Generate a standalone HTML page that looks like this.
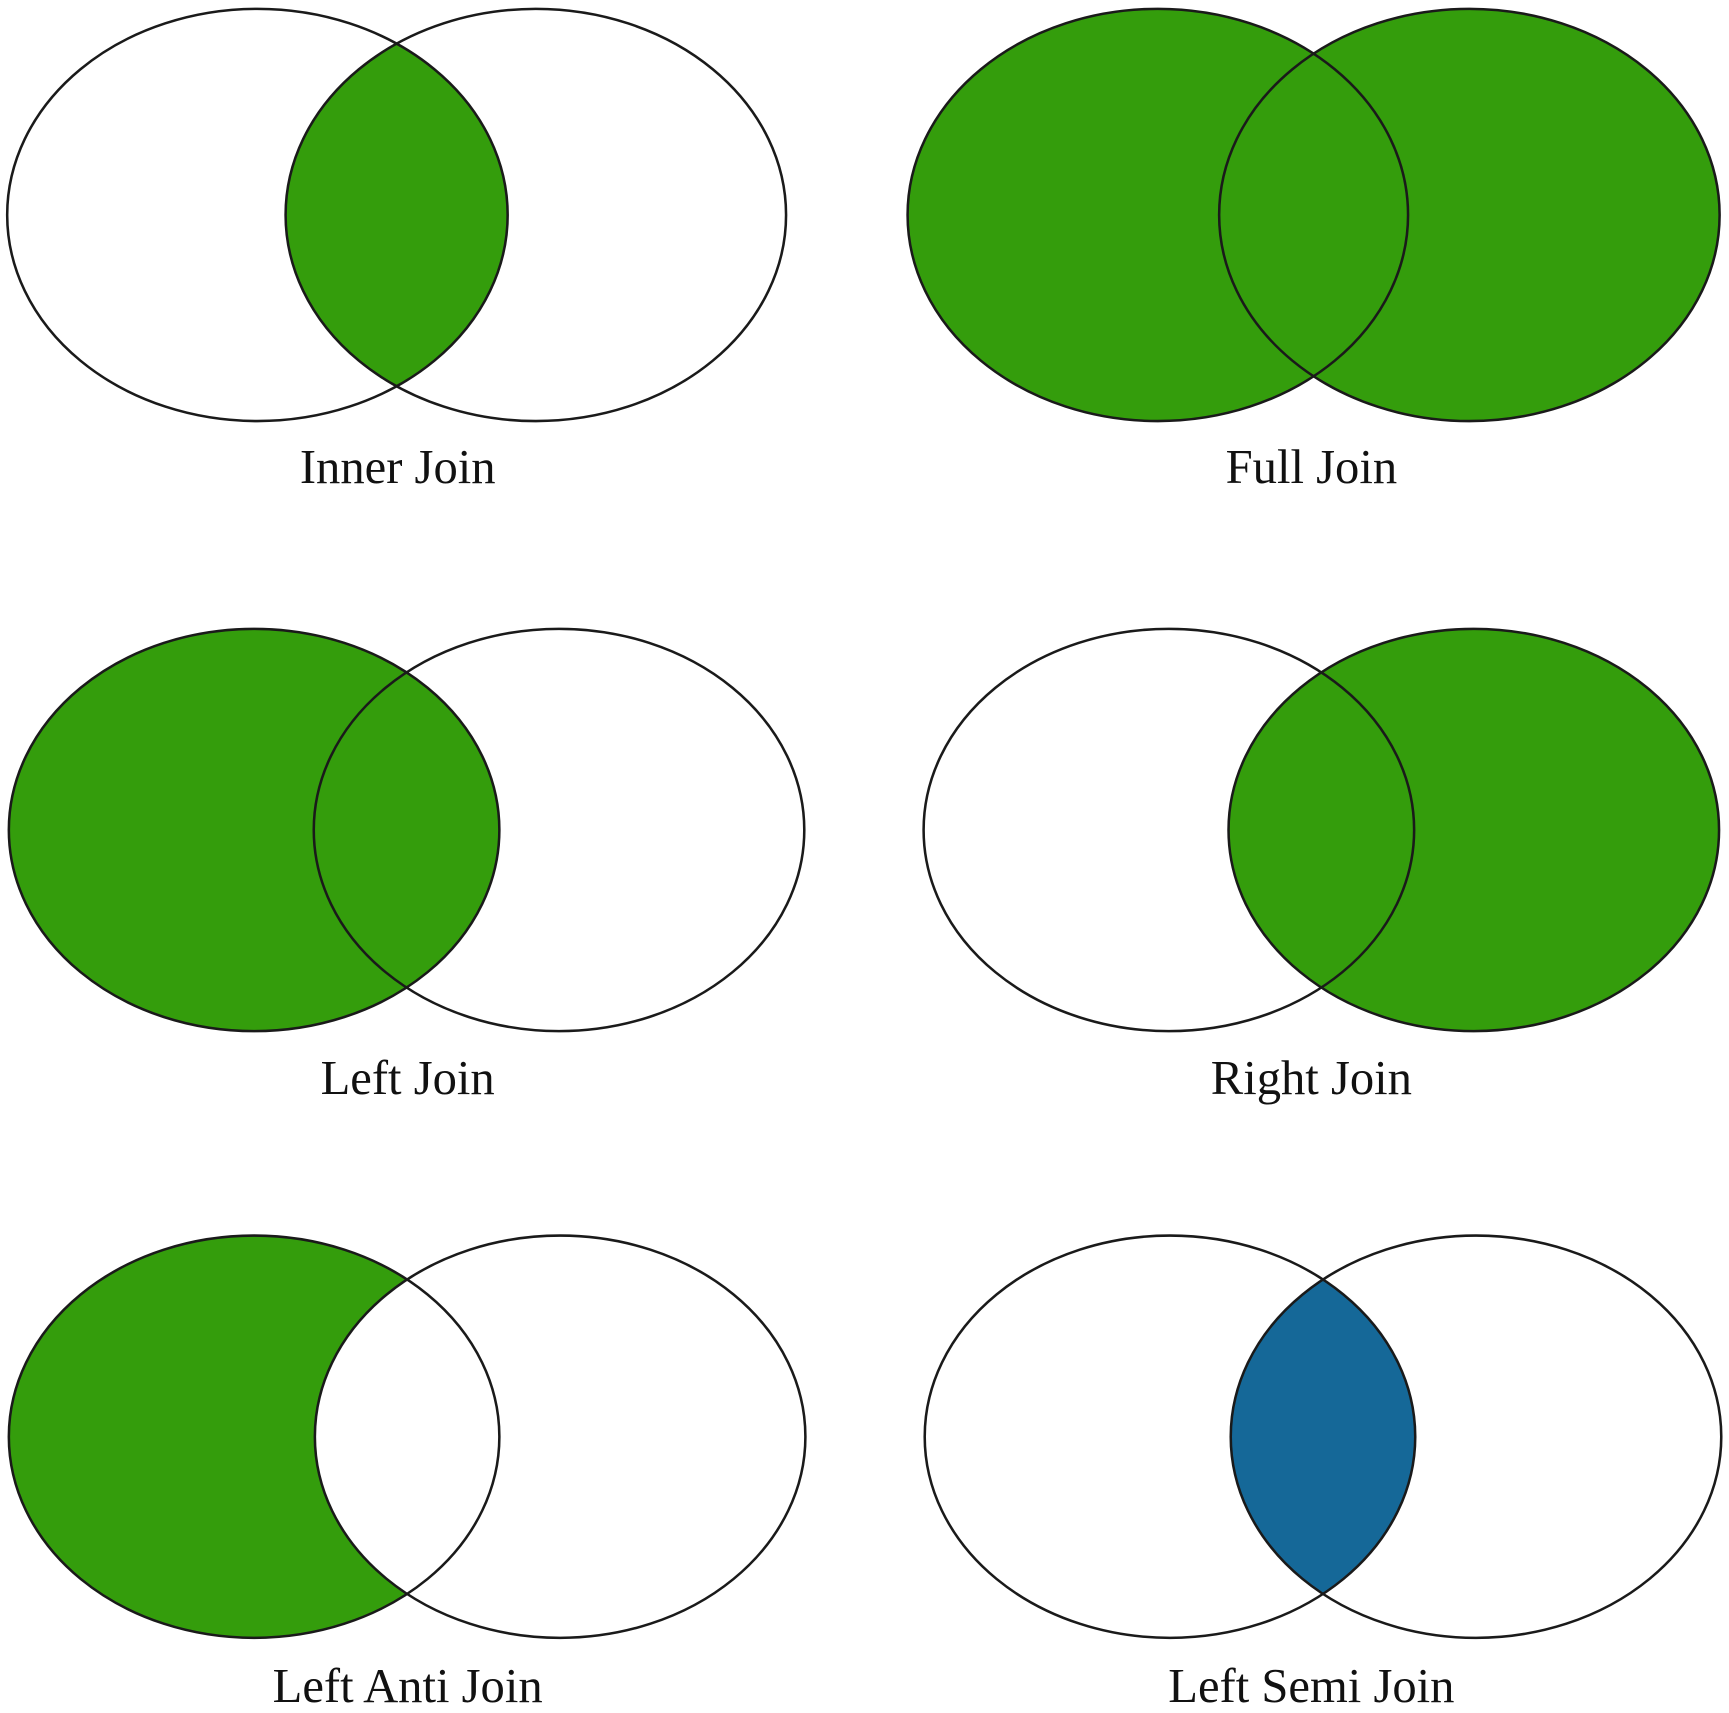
<!DOCTYPE html>
<html><head><meta charset="utf-8"><style>
html,body{margin:0;padding:0;background:#fff;}
svg{display:block;}
</style></head><body>
<svg id="chart" width="1729" height="1713" viewBox="0 0 1565 1550" preserveAspectRatio="none" xmlns="http://www.w3.org/2000/svg"></svg>
<script>
const labels = ["Inner Join","Full Join","Left Join","Right Join","Left Anti Join","Left Semi Join"];
// fill flags: [leftOnly, intersection, rightOnly]
const leftOnlyFill = [0,1,1,0,1,0];
const interFill = [1,1,1,1,0,1];
const rightOnlyFill = [0,1,0,1,0,0];
const fillColor = ["#349d0c","#349d0c","#349d0c","#349d0c","#349d0c","#156898"];
// geometry per panel: left cx, right cx, cy, rx, ry, label x, label baseline
const geo = [
 [233,485,194.5,226.5,186.5,360,437],
 [1048,1330,194.5,226.5,186.5,1187,437],
 [230,506,751,222,182,369,990],
 [1058,1334,751,222,182,1187,990],
 [230,507,1300,222,182,369,1540],
 [1059,1336,1300,222,182,1187,1540]
];
const NS="http://www.w3.org/2000/svg";
const svg=document.getElementById('chart');
function mk(t,a){const e=document.createElementNS(NS,t);for(const k in a)e.setAttribute(k,a[k]);return e;}
const defs=mk('defs',{});svg.appendChild(defs);
labels.forEach((lab,i)=>{
  const [lx,rx_,cy,rx,ry,tx,ty]=geo[i];
  const g=mk('g',{});
  
  
  const cl=mk('clipPath',{id:'cl'+i});cl.appendChild(mk('ellipse',{cx:lx,cy:cy,rx:rx,ry:ry}));
  const cr=mk('clipPath',{id:'cr'+i});cr.appendChild(mk('ellipse',{cx:rx_,cy:cy,rx:rx,ry:ry}));
  defs.appendChild(cl);defs.appendChild(cr);
  const c=fillColor[i];
  if(leftOnlyFill[i]){const e=mk('ellipse',{cx:lx,cy:cy,rx:rx,ry:ry,fill:c});
    g.appendChild(e);}
  if(rightOnlyFill[i]){const e=mk('ellipse',{cx:rx_,cy:cy,rx:rx,ry:ry,fill:c});
    g.appendChild(e);}
  if(!interFill[i]){const e=mk('ellipse',{cx:rx_,cy:cy,rx:rx,ry:ry,fill:'#fff','clip-path':'url(#cl'+i+')'});
    g.appendChild(e);}
  else {const e=mk('ellipse',{cx:rx_,cy:cy,rx:rx,ry:ry,fill:c,'clip-path':'url(#cl'+i+')'});
    g.appendChild(e);}
  const o1=mk('ellipse',{cx:lx,cy:cy,rx:rx,ry:ry,fill:'none',stroke:'#1a1a1a','stroke-width':2.3});
  g.appendChild(o1);
  const o2=mk('ellipse',{cx:rx_,cy:cy,rx:rx,ry:ry,fill:'none',stroke:'#1a1a1a','stroke-width':2.3});
  g.appendChild(o2);
  const t=mk('text',{x:tx,y:ty,'text-anchor':'middle','font-family':'"Liberation Serif", serif','font-size':44,fill:'#111'});
  
  t.textContent=lab;g.appendChild(t);
  svg.appendChild(g);
});
</script>
</body></html>
